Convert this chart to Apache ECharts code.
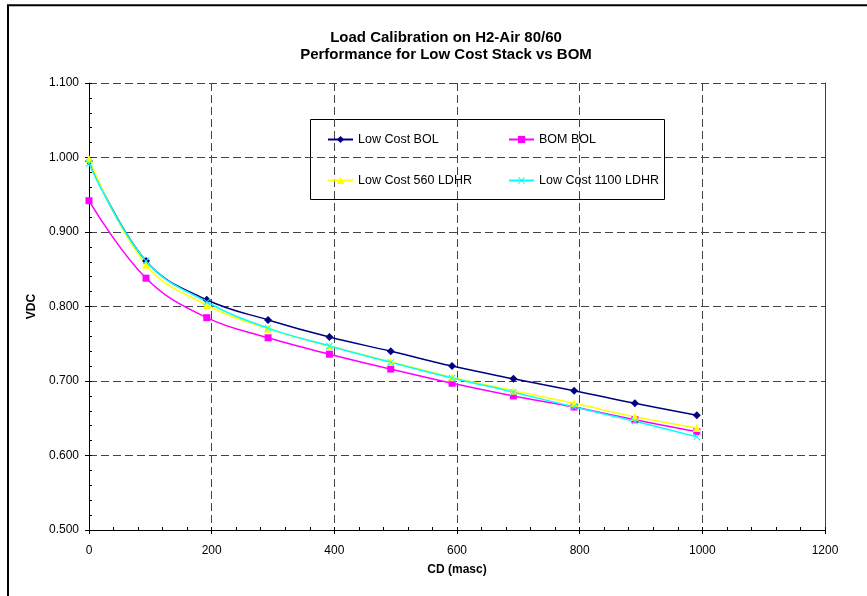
<!DOCTYPE html>
<html>
<head>
<meta charset="utf-8">
<script src="https://cdn.jsdelivr.net/npm/echarts@6/dist/echarts.min.js"></script>
<style>
html,body{margin:0;padding:0;background:#fff;}
#chart{width:867px;height:596px;}
</style>
</head>
<body>
<div id="chart"></div>
<script>
// ---- data ----
const titleLines = ['Load Calibration on H2-Air 80/60', 'Performance for Low Cost Stack vs BOM'];
const xValues = [0, 93, 192, 292, 392, 492, 592, 692, 791, 890, 991];
const seriesNames = ['Low Cost BOL', 'BOM BOL', 'Low Cost 560 LDHR', 'Low Cost 1100 LDHR'];
const lowCostBOL   = [0.995, 0.861, 0.809, 0.782, 0.759, 0.740, 0.720, 0.703, 0.687, 0.670, 0.654];
const bomBOL       = [0.942, 0.838, 0.785, 0.758, 0.736, 0.716, 0.697, 0.680, 0.665, 0.648, 0.632];
const lowCost560   = [0.998, 0.856, 0.802, 0.770, 0.747, 0.726, 0.705, 0.687, 0.670, 0.652, 0.637];
const lowCost1100  = [0.992, 0.861, 0.806, 0.771, 0.747, 0.725, 0.704, 0.685, 0.665, 0.646, 0.625];
const xAxisName = 'CD (masc)';
const yAxisName = 'VDC';

const FONT = 'Liberation Sans, Arial, sans-serif';
const toPairs = (ys) => ys.map((y, i) => [xValues[i], y]);
const crossPath = 'path://M0,1L1,0L5,4L9,0L10,1L6,5L10,9L9,10L5,6L1,10L0,9L4,5Z';

const styles = [
  {color: '#000080', symbol: 'diamond', size: 8},
  {color: '#FF00FF', symbol: 'rect', size: 7},
  {color: '#FFFF00', symbol: 'triangle', size: 8},
  {color: '#00FFFF', symbol: crossPath, size: 7}
];
const allData = [lowCostBOL, bomBOL, lowCost560, lowCost1100];

const series = allData.map((d, i) => ({
  name: seriesNames[i],
  type: 'line',
  xAxisIndex: 0,
  yAxisIndex: 0,
  data: toPairs(d),
  smooth: 0.4,
  symbol: styles[i].symbol,
  symbolSize: styles[i].size,
  showAllSymbol: true,
  lineStyle: {color: styles[i].color, width: 1.5},
  itemStyle: {color: styles[i].color},
  emphasis: {disabled: true}
}));

const axisCommonX = {type: 'value', min: 0, max: 1200, interval: 200};
const axisCommonY = {type: 'value', min: 0.5, max: 1.1, interval: 0.1};
const legendCommon = {
  orient: 'vertical',
  top: 128,
  padding: 5,
  itemWidth: 25,
  itemHeight: 9,
  itemGap: 28,
  textStyle: {fontFamily: FONT, fontSize: 12.5, color: '#000'},
  selectedMode: false
};

const chart = echarts.init(document.getElementById('chart'), null, {renderer: 'canvas'});
chart.setOption({
  animation: false,
  backgroundColor: '#fff',
  title: {
    text: titleLines.join('\n'),
    left: 441,
    textAlign: 'center',
    top: 24,
    textStyle: {fontFamily: FONT, fontSize: 15, fontWeight: 'bold', color: '#000', lineHeight: 17}
  },
  grid: {left: 89, right: 42, top: 83, bottom: 66, containLabel: false},
  legend: [
    Object.assign({}, legendCommon, {left: 322, data: [seriesNames[0], seriesNames[2]]}),
    Object.assign({}, legendCommon, {left: 503, data: [seriesNames[1], seriesNames[3]]})
  ],
  xAxis: [
    Object.assign({}, axisCommonX, {
      position: 'bottom',
      name: xAxisName,
      nameLocation: 'middle',
      nameGap: 34,
      nameTextStyle: {fontFamily: FONT, fontSize: 12, fontWeight: 'bold', color: '#000'},
      axisLine: {show: true, onZero: false, lineStyle: {color: '#000', width: 1}},
      axisTick: {show: true, inside: false, length: 4, lineStyle: {color: '#000'}},
      axisLabel: {margin: 15, fontFamily: FONT, fontSize: 12, color: '#000', formatter: (v) => String(v)},
      splitLine: {show: true, lineStyle: {color: '#444', width: 1, type: [8, 4]}}
    }),
    Object.assign({}, axisCommonX, {
      position: 'bottom',
      axisLine: {show: false, onZero: false},
      axisTick: {show: true, inside: true, length: 3, lineStyle: {color: '#000'}},
      minorTick: {show: true, splitNumber: 5, length: 3, lineStyle: {color: '#000'}},
      axisLabel: {show: false},
      splitLine: {show: false}
    })
  ],
  yAxis: [
    Object.assign({}, axisCommonY, {
      position: 'left',
      name: yAxisName,
      nameLocation: 'middle',
      nameGap: 42,
      nameTextStyle: {fontFamily: FONT, fontSize: 12, fontWeight: 'bold', color: '#000'},
      axisLine: {show: true, onZero: false, lineStyle: {color: '#000', width: 1}},
      axisTick: {show: true, inside: false, length: 4, lineStyle: {color: '#000'}},
      axisLabel: {margin: 10, fontFamily: FONT, fontSize: 12, color: '#000', formatter: (v) => v.toFixed(3)},
      splitLine: {show: true, lineStyle: {color: '#444', width: 1, type: [8, 4]}}
    }),
    Object.assign({}, axisCommonY, {
      position: 'left',
      axisLine: {show: false, onZero: false},
      axisTick: {show: true, inside: true, length: 3, lineStyle: {color: '#000'}},
      minorTick: {show: true, splitNumber: 5, length: 3, lineStyle: {color: '#000'}},
      axisLabel: {show: false},
      splitLine: {show: false}
    }),
    Object.assign({}, axisCommonY, {
      position: 'right',
      axisLine: {show: true, onZero: false, lineStyle: {color: '#404040', width: 1}},
      axisTick: {show: false},
      axisLabel: {show: false},
      splitLine: {show: false}
    })
  ],
  graphic: [
    {type: 'rect', silent: true, shape: {x: 8, y: 5.3, width: 900, height: 640},
     style: {fill: 'none', stroke: '#000', lineWidth: 2}},
    {type: 'rect', silent: true, z: -1, shape: {x: 310.5, y: 119.5, width: 354, height: 80},
     style: {fill: '#fff', stroke: '#000', lineWidth: 1}}
  ],
  series: series
});
</script>
</body>
</html>
